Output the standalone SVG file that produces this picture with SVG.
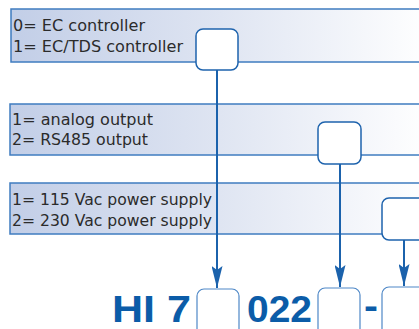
<svg xmlns="http://www.w3.org/2000/svg" width="419" height="329" viewBox="0 0 419 329">
<defs>
<linearGradient id="band" x1="0" y1="0" x2="1" y2="0">
<stop offset="0" stop-color="#c2cee7"/>
<stop offset="0.5" stop-color="#dfe5f2"/>
<stop offset="1" stop-color="#ffffff"/>
</linearGradient>
<marker id="arr" markerWidth="22" markerHeight="11" refX="22" refY="5.5" orient="auto" markerUnits="userSpaceOnUse" viewBox="0 0 22 11">
<path d="M0,0 L22,5.5 L0,11 L4,5.5 Z" fill="#1b62ac"/>
</marker>
<style>
.band{fill:url(#band);stroke:#3f7cc0;stroke-width:1.5}
.slot{fill:#fff;stroke:#1e63ad;stroke-width:1.5}
.slot2{fill:#fff;stroke:#4f88c7;stroke-width:1.2}
.lbl{font-family:"DejaVu Sans","Liberation Sans",sans-serif;font-size:16px;fill:#2b2b2b}
.code{font-family:"Liberation Sans",Arial,sans-serif;font-size:36px;font-weight:bold;fill:#0b5ca8}
.con{stroke:#1b62ac;stroke-width:2;fill:none}
</style>
</defs>
<g id="band1">
<rect class="band" x="11" y="9" width="420" height="53"/>
<text class="lbl" x="13" y="31" textLength="132" lengthAdjust="spacingAndGlyphs">0= EC controller</text>
<text class="lbl" x="13" y="52" textLength="170" lengthAdjust="spacingAndGlyphs">1= EC/TDS controller</text>
</g>
<g id="band2">
<rect class="band" x="10" y="104" width="420" height="51"/>
<text class="lbl" x="12" y="125" textLength="141" lengthAdjust="spacingAndGlyphs">1= analog output</text>
<text class="lbl" x="12" y="145" textLength="136" lengthAdjust="spacingAndGlyphs">2= RS485 output</text>
</g>
<g id="band3">
<rect class="band" x="10" y="183" width="420" height="51"/>
<text class="lbl" x="12" y="205" textLength="200" lengthAdjust="spacingAndGlyphs">1= 115 Vac power supply</text>
<text class="lbl" x="12" y="226" textLength="200" lengthAdjust="spacingAndGlyphs">2= 230 Vac power supply</text>
</g>
<g id="connectors">
<line class="con" x1="217" y1="70" x2="217" y2="288" marker-end="url(#arr)"/>
<line class="con" x1="340" y1="164" x2="340" y2="287" marker-end="url(#arr)"/>
<line class="con" x1="404" y1="240" x2="404" y2="286" marker-end="url(#arr)"/>
</g>
<g id="slot1"><rect class="slot" x="196" y="29" width="42" height="41" rx="7"/></g>
<g id="slot2"><rect class="slot" x="318" y="122" width="43" height="42" rx="7"/></g>
<g id="slot3"><rect class="slot" x="382" y="198" width="45" height="42" rx="7"/></g>
<g id="code">
<text class="code" x="112" y="322" textLength="79" lengthAdjust="spacingAndGlyphs">HI 7</text>
<rect class="slot2" x="197" y="289" width="42" height="50" rx="7"/>
<text class="code" x="247" y="322" textLength="65" lengthAdjust="spacingAndGlyphs">022</text>
<rect class="slot2" x="318" y="288" width="42" height="50" rx="7"/>
<text class="code" x="364" y="318" textLength="14" lengthAdjust="spacingAndGlyphs">-</text>
<rect class="slot2" x="382" y="287" width="45" height="50" rx="7"/>
</g>
</svg>
